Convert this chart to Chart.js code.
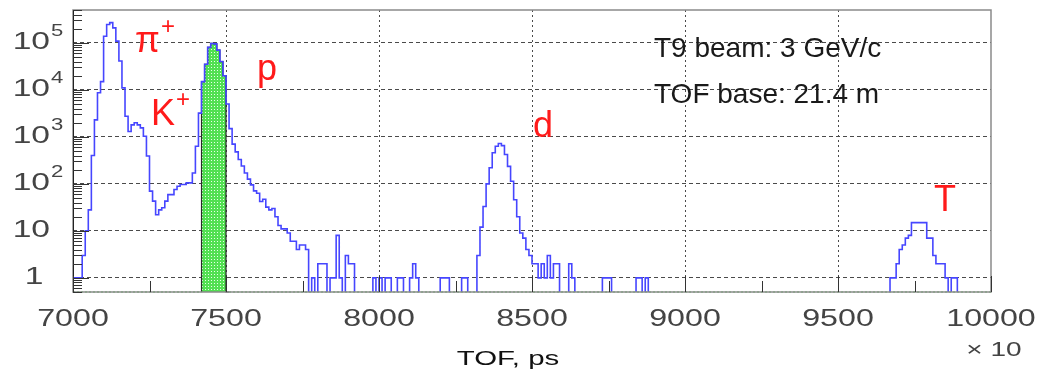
<!DOCTYPE html>
<html>
<head>
<meta charset="utf-8">
<script src="https://cdn.jsdelivr.net/npm/chart.js@4.4.0/dist/chart.umd.min.js"></script>
<style>
  html, body { margin: 0; padding: 0; background: #fff; }
  #wrap { position: relative; width: 1041px; height: 377px; }
</style>
</head>
<body>
<div id="wrap"><canvas id="tofChart"></canvas></div>
<script>
// TOF spectrum, histogram with 10-unit bins (axis is TOF / 10 in ps)
const binWidth = 10;
const xMin = 7000;
const xMax = 10000;
const yMin = 0.5;
const yMax = 5e5;

// pi+ and K+ region, first bin at 7000
const pionStart = 7000;
const pionCounts = [1, 1, 1, 1, 3, 10, 28, 400, 2300, 8700, 15000, 138000, 245000, 270000,
  208000, 109000, 41000, 11000, 2750, 1300, 1800, 2000, 1800, 1550, 1030, 390, 70, 43, 22,
  28, 31, 43, 59, 59, 76, 89, 97, 97, 105, 105, 170, 630, 3200];

// proton peak (also the selected, green part)
const protonStart = 7430;
const protonCounts = [15000, 35000, 80000, 97000, 95000, 70000, 40000, 20000];

// proton tail
const tailStart = 7510;
const tailCounts = [5000, 1500, 700, 480, 330, 240, 170, 126, 95, 71, 63, 42, 47, 32, 28, 30,
  20, 13, 11, 11, 9, 6, 6, 4, 5, 5, 4];

// deuterons
const deuteronStart = 8330;
const deuteronCounts = [3, 12, 33, 100, 220, 460, 630, 720, 650, 420, 235, 114, 46, 20, 9, 7,
  4, 3, 2, 2, 1, 2, 1, 3, 1, 2, 2];

// tritons
const tritonStart = 9680;
const tritonCounts = [1, 1, 2, 4, 5, 7, 8, 15, 15, 15, 15, 15, 7, 7, 3, 2, 2, 2, 1, 0, 1, 1];

// isolated background counts
const noiseBins = [7790, 7810, 7820, 7830, 7850, 7860, 7870, 7880, 7900, 7910, 7920, 7990, 8010,
  8030, 8040, 8070, 8080, 8110, 8120, 8130, 8210, 8220, 8230, 8280, 8290, 8630, 8640, 8740,
  8750, 8760, 8850, 8860, 8880];
const noiseCounts = [1, 2, 2, 2, 1, 1, 8, 1, 3, 2, 2, 1, 1, 1, 1, 1, 1, 1, 2, 1, 1, 1, 1, 1, 1,
  2, 1, 1, 1, 1, 1, 1, 1];

// axis ticks
const xTickValues = [7000, 7500, 8000, 8500, 9000, 9500, 10000];
const xMinorTicks = [7250, 7750, 8250, 8750, 9250, 9750];
const yTickValues = [1, 10, 100, 1000, 10000, 100000];

// labels
const infoLines = ['T9 beam: 3 GeV/c', 'TOF base: 21.4 m'];
const xTitle = 'TOF, ps';
const xMultiplier = '\u00d7 10';

const FONT = '"Liberation Sans", Arial, sans-serif';

/**
 * Fill the full bin array from the peak pieces
 */
function buildCounts(pieces) {
  const nBins = Math.round((xMax - xMin) / binWidth);
  const counts = new Array(nBins).fill(0);
  pieces.forEach(([start, arr]) => {
    const first = Math.round((start - xMin) / binWidth);
    arr.forEach((c, i) => { counts[first + i] += c; });
  });
  return counts;
}

const allCounts = buildCounts([
  [pionStart, pionCounts],
  [protonStart, protonCounts],
  [tailStart, tailCounts],
  [deuteronStart, deuteronCounts],
  [tritonStart, tritonCounts]
]);
noiseBins.forEach((b, i) => { allCounts[Math.round((b - xMin) / binWidth)] += noiseCounts[i]; });

const greenCounts = buildCounts([[protonStart, protonCounts]]);

// empty bins: blue drops below the frame, green sits on the frame bottom
function toSteps(counts, emptyValue) {
  const pts = counts.map((c, i) => ({ x: xMin + i * binWidth, y: c > 0 ? c : emptyValue }));
  pts.push({ x: xMax, y: emptyValue });
  return pts;
}

function makeDotPattern(ctx) {
  const c = document.createElement('canvas');
  c.width = 3;
  c.height = 3;
  const g = c.getContext('2d');
  g.fillStyle = '#52e052';
  g.fillRect(0, 0, 3, 3);
  g.fillStyle = '#e8ffe8';
  g.fillRect(1, 1, 1, 1);
  return ctx.createPattern(c, 'repeat');
}

// text drawn a bit wider than the font, like the original
function wideText(ctx, text, x, y, align, sx) {
  ctx.save();
  ctx.translate(x, y);
  ctx.scale(sx, 1);
  ctx.textAlign = align;
  ctx.fillText(text, 0, 0);
  ctx.restore();
}

// frame, inside ticks and all text
const overlayPlugin = {
  id: 'overlay',
  afterDatasetsDraw(chart) {
    const { ctx, chartArea: a, scales: { x, y } } = chart;
    ctx.save();

    // frame
    ctx.strokeStyle = '#8a8a8a';
    ctx.lineWidth = 1.5;
    ctx.strokeRect(a.left, a.top, a.right - a.left, a.bottom - a.top);
    ctx.strokeStyle = '#222';
    ctx.lineWidth = 1;
    ctx.beginPath();
    ctx.moveTo(a.left + 0.5, a.top);
    ctx.lineTo(a.left + 0.5, a.bottom);
    ctx.stroke();

    // y ticks (major + 2..9) on the left edge
    ctx.strokeStyle = '#333';
    ctx.beginPath();
    for (let e = -1; e <= 5; e++) {
      for (let k = 1; k <= 9; k++) {
        const v = k * Math.pow(10, e);
        if (v < yMin || v > yMax) continue;
        const py = Math.round(y.getPixelForValue(v)) + 0.5;
        ctx.moveTo(a.left, py);
        ctx.lineTo(a.left + (k === 1 ? 16 : 9), py);
      }
    }
    // x ticks from the bottom edge
    xTickValues.forEach(v => {
      const px = Math.round(x.getPixelForValue(v)) + 0.5;
      ctx.moveTo(px, a.bottom);
      ctx.lineTo(px, a.bottom - 16);
    });
    xMinorTicks.forEach(v => {
      const px = Math.round(x.getPixelForValue(v)) + 0.5;
      ctx.moveTo(px, a.bottom);
      ctx.lineTo(px, a.bottom - 11);
    });
    ctx.stroke();

    // y labels 10^n
    ctx.fillStyle = '#444';
    ctx.textBaseline = 'middle';
    yTickValues.forEach(v => {
      const py = y.getPixelForValue(v);
      const e = Math.round(Math.log10(v));
      ctx.font = '24px ' + FONT;
      if (e === 0) {
        wideText(ctx, '1', 34, py, 'center', 1.4);
      } else {
        wideText(ctx, '10', 50, py, 'right', 1.4);
        if (e > 1) {
          ctx.font = '17px ' + FONT;
          wideText(ctx, String(e), 51, py - 12, 'left', 1.3);
        }
      }
    });

    // x labels
    ctx.font = '23px ' + FONT;
    xTickValues.forEach(v => {
      wideText(ctx, String(v), x.getPixelForValue(v), 320, 'center', 1.4);
    });
    ctx.font = '20px ' + FONT;
    wideText(ctx, xMultiplier, 994, 350, 'center', 1.4);
    ctx.fillStyle = '#111';
    ctx.font = '21px ' + FONT;
    wideText(ctx, xTitle, 508, 359, 'center', 1.4);

    // beam info
    ctx.fillStyle = '#1a1a1a';
    ctx.textBaseline = 'alphabetic';
    ctx.font = '28px ' + FONT;
    wideText(ctx, infoLines[0], 654, 57, 'left', 1.0);
    wideText(ctx, infoLines[1], 654, 103, 'left', 1.0);

    // particle names
    ctx.fillStyle = '#ff1a1a';
    ctx.textAlign = 'left';
    ctx.font = '36px ' + FONT;
    ctx.fillText('\u03c0', 135, 52);
    ctx.fillText('K', 151, 125);
    ctx.fillText('p', 257, 80);
    ctx.fillText('d', 533, 137);
    ctx.fillText('T', 934, 211);
    ctx.font = '24px ' + FONT;
    ctx.fillText('+', 161, 34);
    ctx.fillText('+', 176, 107);

    ctx.restore();
  }
};

const canvas = document.getElementById('tofChart');
const dotPattern = makeDotPattern(canvas.getContext('2d'));

const isGreenEmpty = p => p.parsed.y <= yMin;

new Chart(canvas, {
  type: 'line',
  data: {
    datasets: [{
      label: 'all',
      data: toSteps(allCounts, 0.05),
      stepped: 'after',
      borderColor: '#4646ff',
      borderWidth: 1.6,
      pointRadius: 0,
      fill: false,
      clip: 0
    }, {
      label: 'selected',
      data: toSteps(greenCounts, yMin),
      stepped: 'after',
      borderColor: '#2a2a2a',
      borderWidth: 1.2,
      backgroundColor: dotPattern,
      pointRadius: 0,
      fill: 'start',
      clip: { left: 0, top: 0, right: 0, bottom: 1 },
      segment: {
        borderColor: c => (isGreenEmpty(c.p0) && isGreenEmpty(c.p1)) ? '#3fd23f' : undefined,
        borderDash: c => (isGreenEmpty(c.p0) && isGreenEmpty(c.p1)) ? [2, 2] : undefined
      }
    }]
  },
  options: {
    responsive: true,
    maintainAspectRatio: false,
    animation: false,
    layout: { padding: { left: 73, right: 50, top: 10, bottom: 85 } },
    plugins: {
      legend: { display: false },
      tooltip: { enabled: false }
    },
    scales: {
      x: {
        type: 'linear',
        min: xMin,
        max: xMax,
        afterBuildTicks: s => { s.ticks = xTickValues.map(v => ({ value: v })); },
        afterFit: s => { s.height = 0; },
        ticks: { display: false },
        grid: {
          color: c => (c.tick && (c.tick.value === xMin || c.tick.value === xMax)) ? 'rgba(0,0,0,0)' : '#4a4a4a',
          lineWidth: 1,
          drawTicks: false
        },
        border: { display: false, dash: [2, 3] }
      },
      y: {
        type: 'logarithmic',
        min: yMin,
        max: yMax,
        afterBuildTicks: s => { s.ticks = yTickValues.map(v => ({ value: v })); },
        afterFit: s => { s.width = 0; },
        ticks: { display: false },
        grid: { color: '#4a4a4a', lineWidth: 1, drawTicks: false },
        border: { display: false, dash: [4, 3] }
      }
    }
  },
  plugins: [overlayPlugin]
});
</script>
</body>
</html>
